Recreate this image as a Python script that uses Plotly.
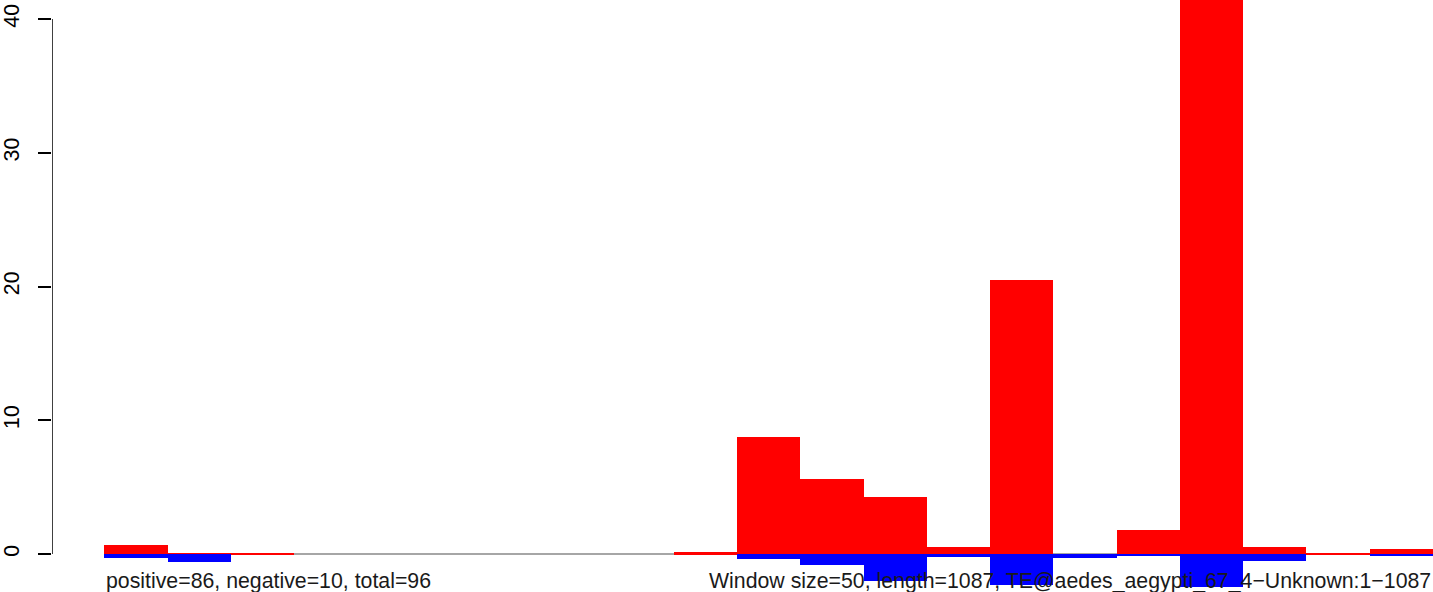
import plotly.graph_objects as go

# Data (per 50-bp window)
bins = list(range(1, 22))
positive = [0.64, 0.11, 0.04, 0, 0, 0, 0, 0, 0, 0.12, 8.72, 5.64, 4.30, 0.49, 20.45, 0, 1.83, 45.0, 0.56, 0.05, 0.41]
negative = [-0.28, -0.61, 0, 0, 0, 0, 0, 0, 0, 0, -0.39, -0.84, -2.03, -0.24, -2.33, -0.28, -0.11, -2.50, -0.49, 0, -0.16]
yticks = [0, 10, 20, 30, 40]
left_label = "positive=86, negative=10, total=96"
right_label = "Window size=50, length=1087, TE@aedes_aegypti_67_4\u2212Unknown:1\u22121087"

FONT = "Liberation Sans, Arial, sans-serif"
xc = [b - 0.5 for b in bins]
nb = len(bins)

fig = go.Figure()
fig.add_trace(go.Bar(x=xc, y=positive, width=1, marker=dict(color="#FF0000", line=dict(width=0)), showlegend=False))
fig.add_trace(go.Bar(x=xc, y=negative, width=1, marker=dict(color="#0000FF", line=dict(width=0)), showlegend=False))

x0 = -0.826
fig.update_layout(
    width=1433, height=592,
    margin=dict(l=0, r=0, t=0, b=0),
    paper_bgcolor="white", plot_bgcolor="white",
    barmode="overlay", bargap=0,
    font=dict(family=FONT, size=21, color="black"),
    xaxis=dict(range=[x0, nb], visible=False, fixedrange=True),
    yaxis=dict(range=[-2.84, 41.42], tickvals=yticks, ticktext=[str(v) for v in yticks],
               ticks="outside", ticklen=13, tickwidth=1.5, tickcolor="black",
               showline=False, showgrid=False, zeroline=False, tickangle=-90,
               ticklabelstandoff=10, tickfont=dict(family=FONT, size=21.3, color="black")),
)
# zero reference line (gray) under the bars
fig.add_shape(type="line", xref="x", yref="y", x0=0, x1=nb, y0=0, y1=0,
              line=dict(color="#A6A6A6", width=2), layer="below")
# R-style y axis line spanning 0..40
fig.add_shape(type="line", xref="x", yref="y", x0=x0, x1=x0, y0=yticks[0], y1=yticks[-1],
              line=dict(color="black", width=1.5))

fig.add_annotation(x=0, y=-1.98, xref="x", yref="y", text=left_label, showarrow=False,
                   xanchor="left", yanchor="middle", font=dict(family=FONT, size=21.3, color="#1a1a1a"))
fig.add_annotation(x=nb, y=-1.98, xref="x", yref="y", text=right_label, showarrow=False,
                   xanchor="right", yanchor="middle", font=dict(family=FONT, size=21.3, color="#1a1a1a"))

fig.write_html("out.html", config={"displayModeBar": False},
               post_script="document.body.style.margin='0';document.body.style.padding='0';document.body.style.overflow='hidden';")
